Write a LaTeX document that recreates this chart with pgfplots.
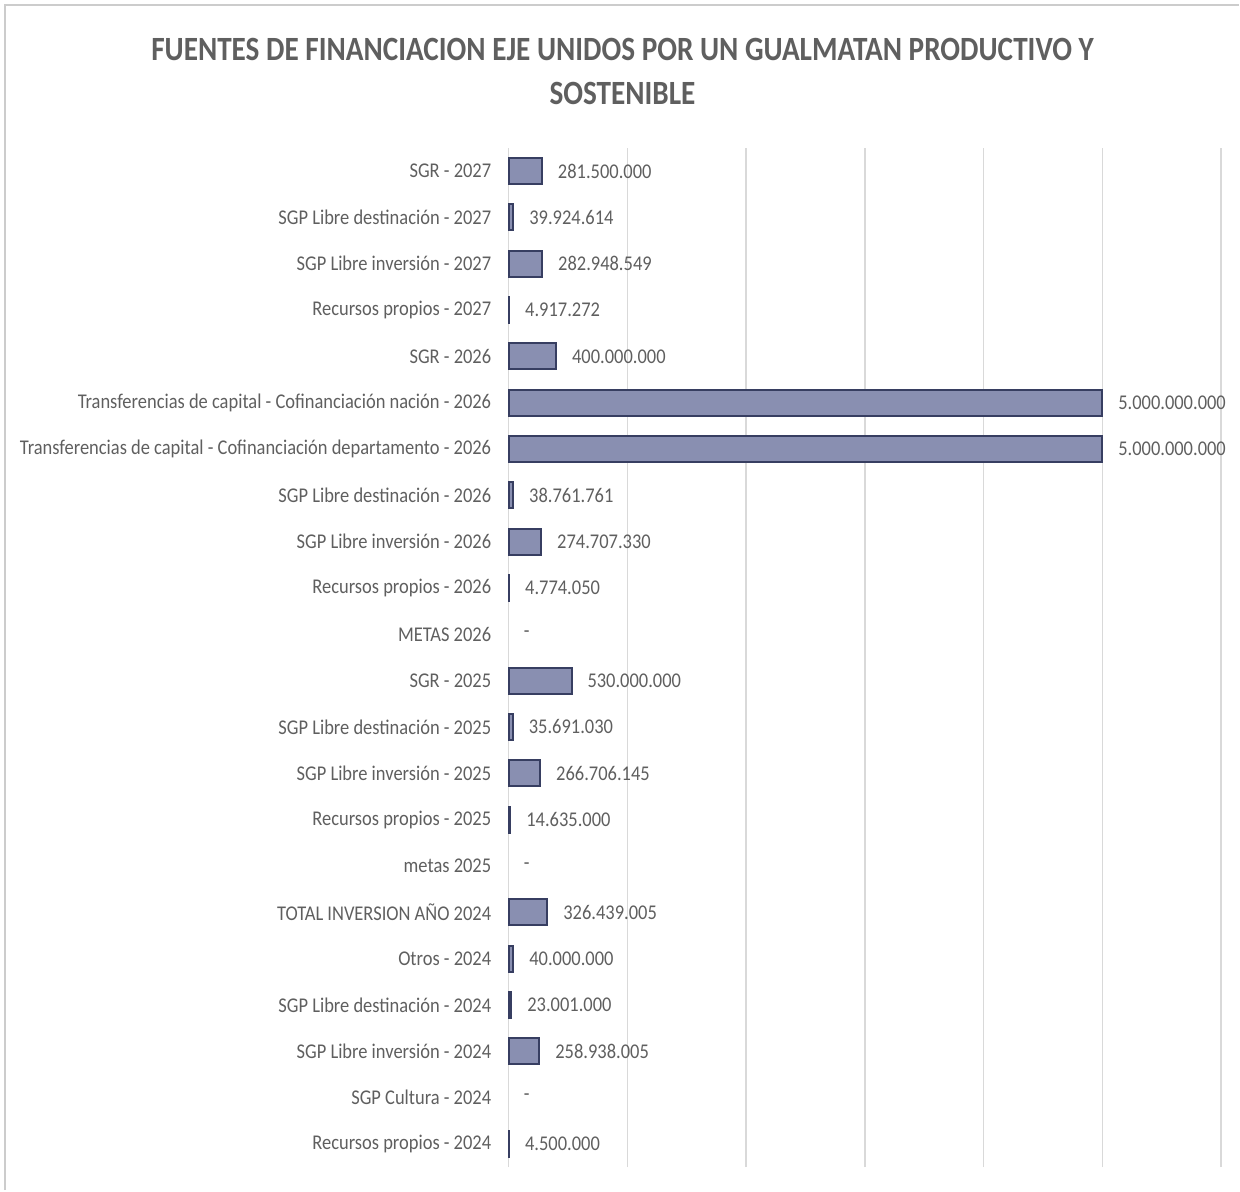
\documentclass[border=0pt]{standalone}
\usepackage{fontspec}
\setmainfont[FakeStretch=0.88]{Carlito}
\newfontfamily\titlefont[FakeStretch=0.86]{Carlito}
\usepackage{pgfplots}
\pgfplotsset{compat=1.18}
\usepackage{pgfplotstable}
\definecolor{txt}{RGB}{95,95,95}
\definecolor{barfill}{RGB}{137,143,177}
\definecolor{bardraw}{RGB}{55,62,97}
\definecolor{gridc}{RGB}{217,217,217}

\pgfplotstableread{
y x lab
21 281.5 281.500.000
20 39.924614 39.924.614
19 282.948549 282.948.549
18 4.917272 4.917.272
17 400 400.000.000
16 5000 5.000.000.000
15 5000 5.000.000.000
14 38.761761 38.761.761
13 274.70733 274.707.330
12 4.77405 4.774.050
10 530 530.000.000
9 35.69103 35.691.030
8 266.706145 266.706.145
7 14.635 14.635.000
5 326.439005 326.439.005
4 40 40.000.000
3 23.001 23.001.000
2 258.938005 258.938.005
0 4.5 4.500.000
}\bardata

\pgfplotstableread{
y x lab
11 0 -
6 0 -
1 0 -
}\zerodata

\begin{document}
\begin{tikzpicture}
\path (-254.5bp,-11.5bp) rectangle (365.5bp,584bp);
\draw[black!20, line width=1bp] (-252bp,-11.5bp) -- (-252bp,581.5bp) -- (365.5bp,581.5bp);
\begin{axis}[
  scale only axis, width=356.5bp, height=510bp,
  at={(0,0)}, anchor=south west,
  xbar, bar width=13bp, bar shift=0pt,
  xmin=0, xmax=6000, ymin=-0.5, ymax=21.5,
  xtick={0,1000,...,6000}, xticklabels={},
  xmajorgrids, major grid style={draw=gridc, line width=0.75bp},
  ytick={0,...,21},
  yticklabels={Recursos propios - 2024, SGP Cultura - 2024, SGP Libre inversión - 2024, SGP Libre destinación - 2024, Otros - 2024, TOTAL INVERSION AÑO 2024, metas 2025, Recursos propios - 2025, SGP Libre inversión - 2025, SGP Libre destinación - 2025, SGR - 2025, METAS 2026, Recursos propios - 2026, SGP Libre inversión - 2026, SGP Libre destinación - 2026, Transferencias de capital - Cofinanciación departamento - 2026, Transferencias de capital - Cofinanciación nación - 2026, SGR - 2026, Recursos propios - 2027, SGP Libre inversión - 2027, SGP Libre destinación - 2027, SGR - 2027},
  major tick length=0pt,
  axis line style={draw=none},
  yticklabel style={font=\fontsize{10.5bp}{12bp}\selectfont, text=txt, inner sep=0pt, xshift=-8.5bp},
  point meta=explicit symbolic,
  nodes near coords,
  nodes near coords style={font=\fontsize{10.5bp}{12bp}\selectfont, text=txt, anchor=west, inner sep=0pt, xshift=7.5bp},
  clip=false,
]
\addplot[fill=barfill, draw=bardraw, line width=1bp] table[x=x, y=y, meta=lab] {\bardata};
\addplot[draw=none, fill=none] table[x=x, y=y, meta=lab] {\zerodata};
\end{axis}
\node[align=center, text=txt, font=\fontsize{17bp}{22bp}\titlefont\bfseries] at (57bp,548bp) {FUENTES DE FINANCIACION EJE UNIDOS POR UN GUALMATAN PRODUCTIVO Y\\SOSTENIBLE};
\end{tikzpicture}
\end{document}
